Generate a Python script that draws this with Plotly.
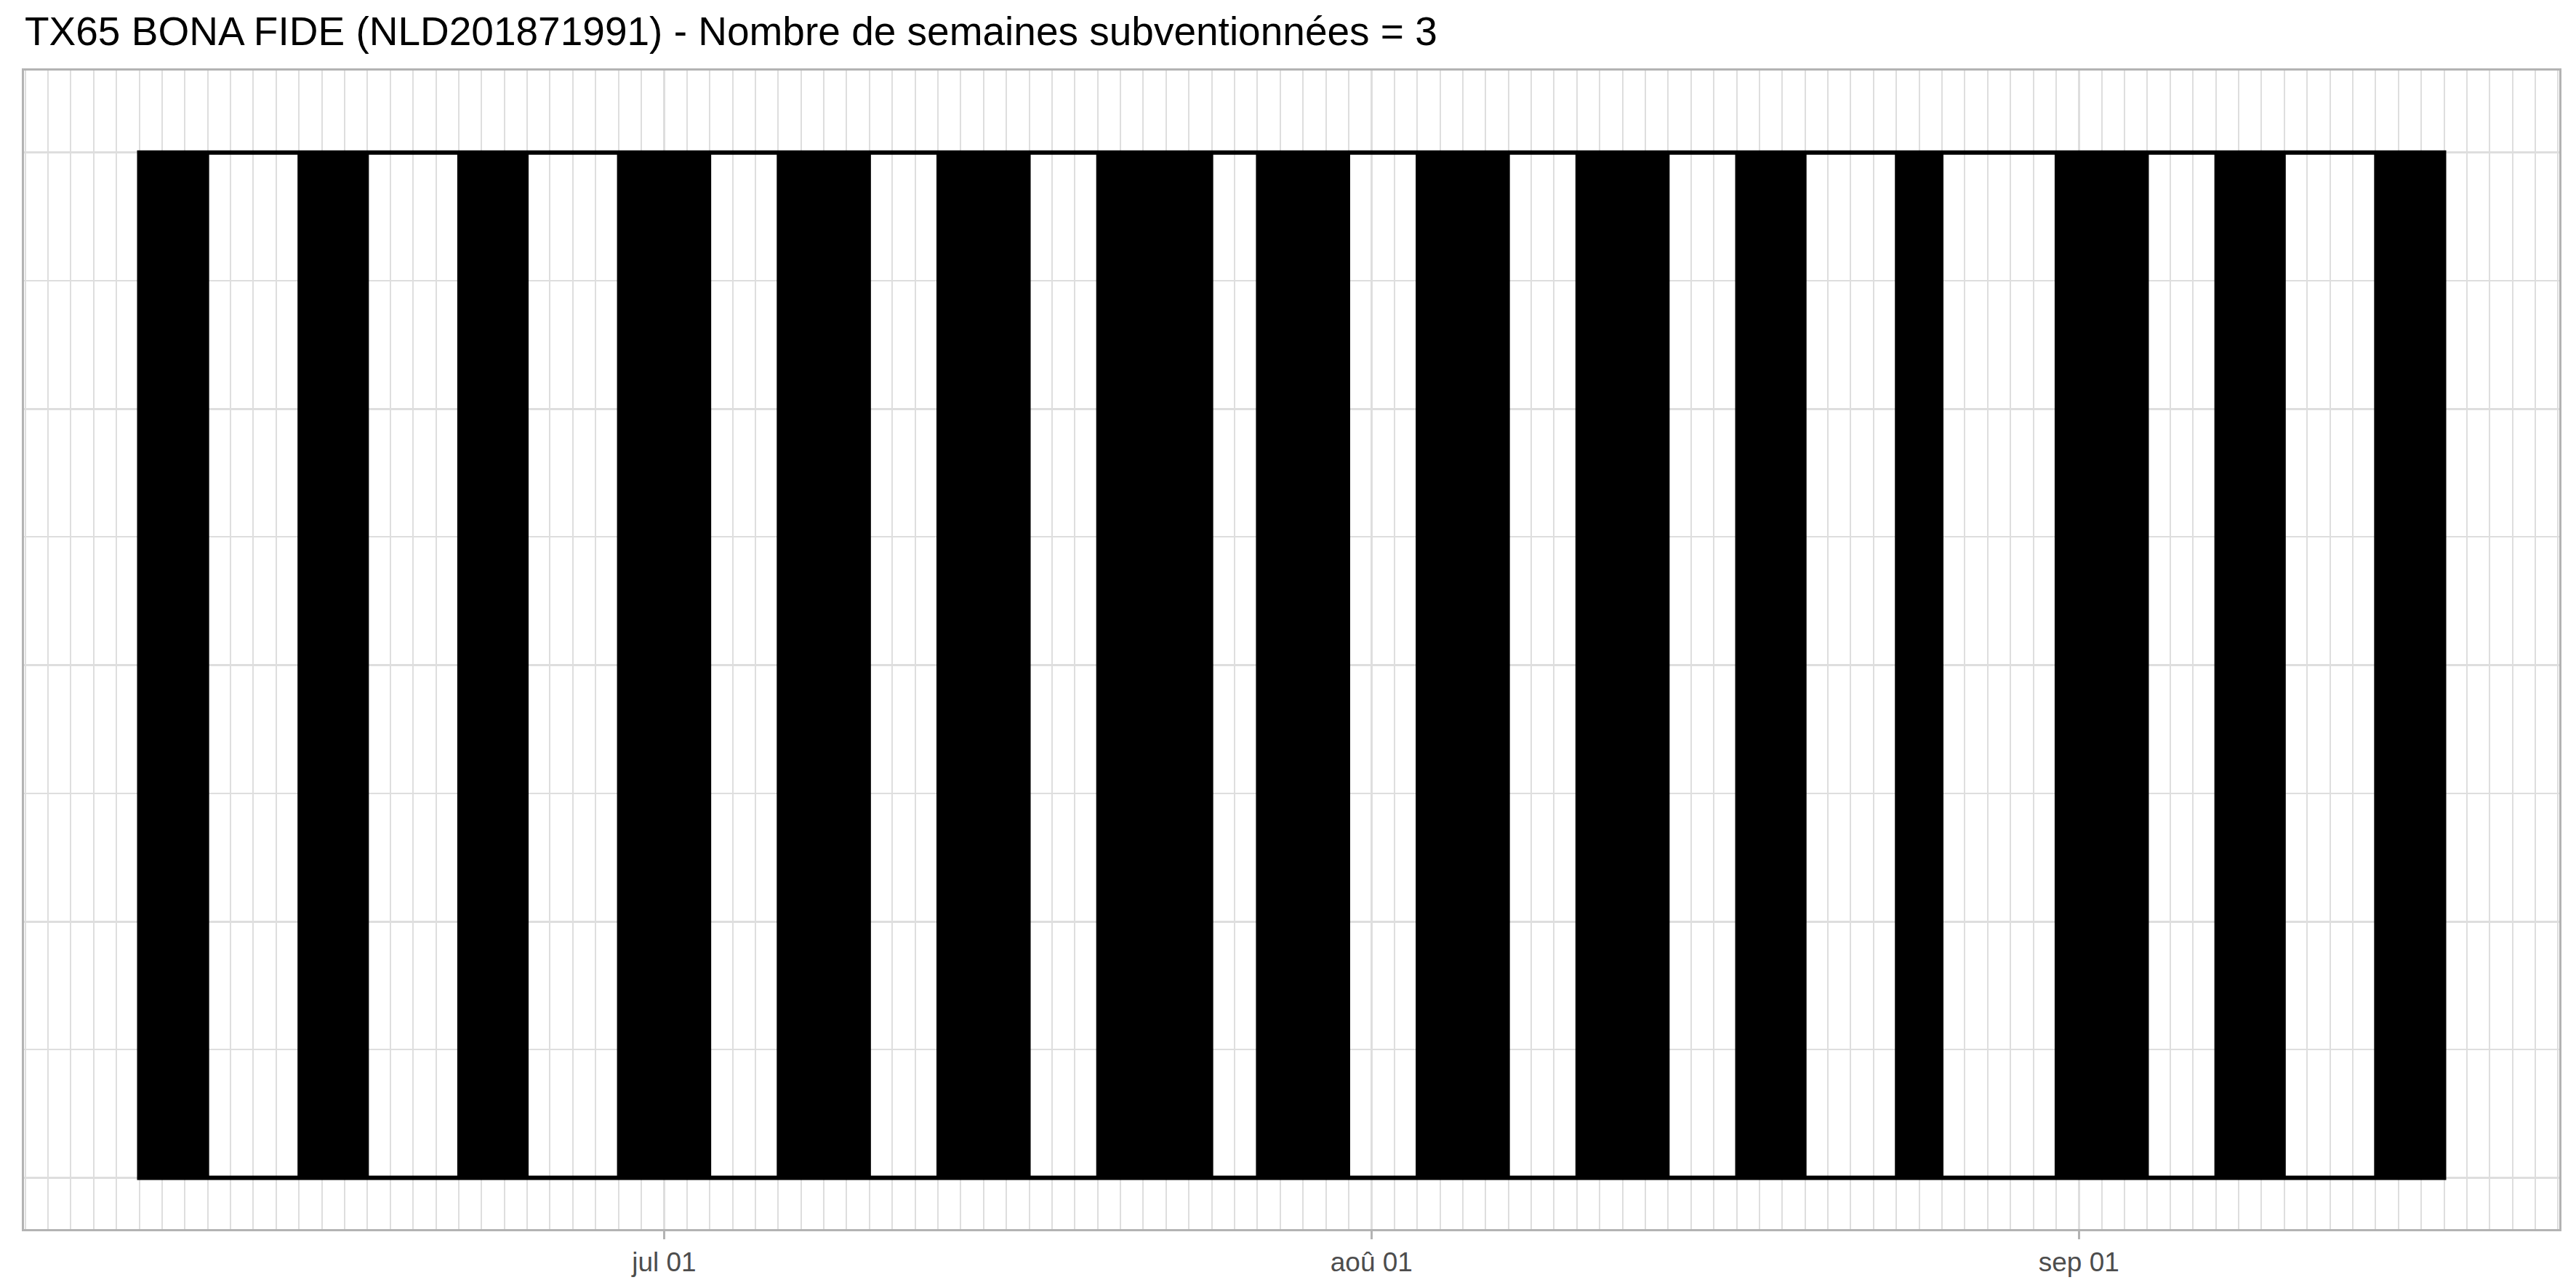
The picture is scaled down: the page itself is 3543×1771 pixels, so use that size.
import pandas as pd
import plotly.graph_objects as go

# ---- data ----
title_text = "TX65 BONA FIDE (NLD201871991) - Nombre de semaines subventionnées = 3"
black_start = ["2018-06-08", "2018-06-15", "2018-06-22", "2018-06-29", "2018-07-06",
               "2018-07-13", "2018-07-20", "2018-07-27", "2018-08-03", "2018-08-10",
               "2018-08-17", "2018-08-24", "2018-08-31", "2018-09-07", "2018-09-14"]
black_end = ["2018-06-11", "2018-06-18", "2018-06-25", "2018-07-03", "2018-07-10",
             "2018-07-17", "2018-07-25", "2018-07-31", "2018-08-07", "2018-08-14",
             "2018-08-20", "2018-08-26", "2018-09-04", "2018-09-10", "2018-09-17"]
month_ticks = ["2018-07-01", "2018-08-01", "2018-09-01"]
month_labels = ["jul 01", "aoû 01", "sep 01"]
y_low, y_high = 0, 1
y_major = [0, 0.25, 0.5, 0.75, 1]

# ---- scales ----
t0 = pd.Timestamp(black_start[0])
t1 = pd.Timestamp(black_end[-1])
span = t1 - t0
x_range = [t0 - 0.05 * span, t1 + 0.05 * span]

W, H = 3543, 1771
fig = go.Figure()
# invisible trace to establish the date axis
fig.add_trace(go.Scatter(x=[t0, t1], y=[y_low, y_high], mode="markers",
                         marker=dict(opacity=0), hoverinfo="skip", showlegend=False))

shapes = []
# frame around whole period
shapes.append(dict(type="rect", xref="x", yref="y", x0=t0, x1=t1, y0=y_low, y1=y_high,
                   line=dict(color="black", width=6), fillcolor="rgba(0,0,0,0)", layer="above"))
for s, e in zip(black_start, black_end):
    shapes.append(dict(type="rect", xref="x", yref="y", x0=s, x1=e, y0=y_low, y1=y_high,
                       line=dict(color="black", width=4), fillcolor="black", layer="above"))

grid_major = "#DEDEDE"
border = "#B3B3B3"
font_fam = "Liberation Sans, Arial, Helvetica, sans-serif"

fig.update_layout(
    width=W, height=H,
    margin=dict(l=33, r=23, t=97, b=81),
    paper_bgcolor="white", plot_bgcolor="white",
    shapes=shapes,
    title=dict(text=title_text, x=34 / W, xanchor="left", xref="container",
               y=1 - 43 / H, yanchor="middle",
               font=dict(family=font_fam, size=55, color="black")),
    font=dict(family=font_fam),
    xaxis=dict(
        type="date", range=x_range,
        tickmode="array", tickvals=month_ticks, ticktext=month_labels,
        tickfont=dict(family=font_fam, size=37, color="#4D4D4D"),
        ticks="outside", ticklen=11, tickwidth=3, tickcolor=border,
        showgrid=True, gridcolor=grid_major, gridwidth=3,
        showline=True, linecolor=border, linewidth=3, mirror=True,
        zeroline=False,
        minor=dict(dtick=86400000, tick0="2018-06-01", showgrid=True,
                   gridcolor=grid_major, gridwidth=1.5, ticks=""),
    ),
    yaxis=dict(
        range=[-0.05, 1.08],
        tickmode="array", tickvals=y_major, showticklabels=False, ticks="",
        showgrid=True, gridcolor=grid_major, gridwidth=3,
        showline=True, linecolor=border, linewidth=3, mirror=True,
        zeroline=False,
        minor=dict(dtick=0.125, tick0=0, showgrid=True, gridcolor=grid_major,
                   gridwidth=1.5, ticks=""),
    ),
)

fig.write_html("out.html")
